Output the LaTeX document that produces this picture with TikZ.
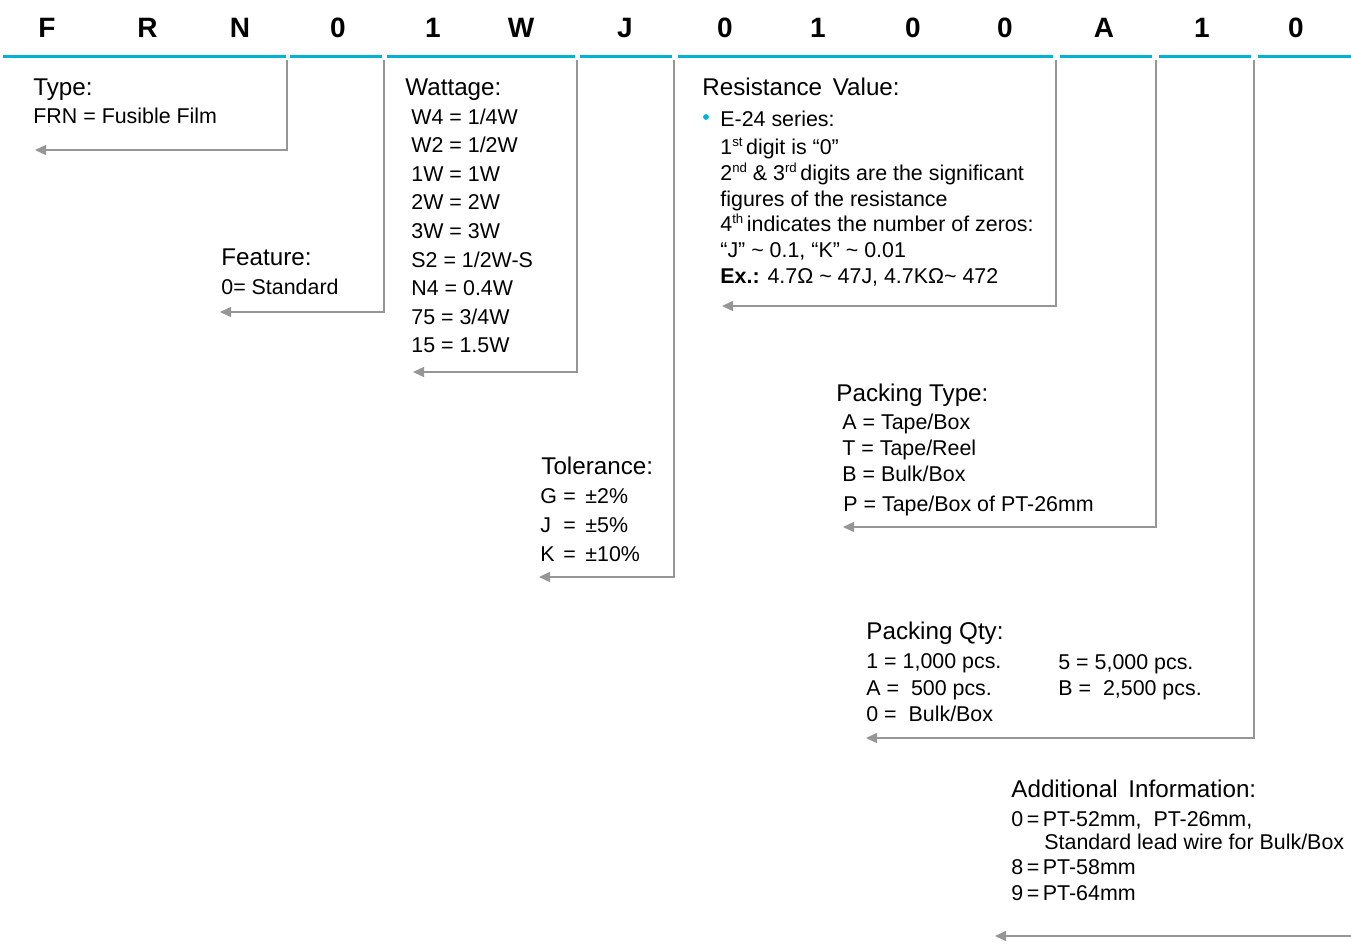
\documentclass[tikz,border=0pt]{standalone}
\usepackage{fontspec}
\setmainfont{Liberation Sans}
\usetikzlibrary{arrows.meta}
\definecolor{codecyan}{RGB}{0,178,214}
\definecolor{leadgray}{RGB}{150,150,150}
\newcommand{\eqrow}[2]{\makebox[11.5pt][l]{#1}\makebox[11pt][l]{=}#2}
\newcommand{\sups}[1]{\raisebox{0.7ex}{\fontsize{6.6}{6.6}\selectfont #1}}
\tikzset{
  code_letter/.style = {anchor=base, inner sep=0pt,
    font=\fontsize{14}{16}\selectfont\bfseries},% lettres du code
  code_bar/.style = {draw=codecyan, line width=1.5pt},% barre cyan
  leader/.style = {draw=leadgray, line width=0.7pt,
    -{Triangle[length=5.5pt,width=5pt]}},% renvoi gris
  field_title/.style = {anchor=base west, inner sep=0pt,
    font=\fontsize{12.1}{14}\selectfont},% titre du champ
  field_item/.style = {anchor=base west, inner sep=0pt,
    font=\fontsize{10.7}{13}\selectfont},% ligne du champ
  bullet_dot/.style = {circle, fill=codecyan, inner sep=0pt,
    minimum size=2.9pt}% puce
}

\begin{document}
\begin{tikzpicture}[x=0.5pt, y=-0.5pt]
  \useasboundingbox (0,0) rectangle (1351,944);
  % code
  \foreach \c/\x [count=\i] in {F/47,R/147.5,N/240,0/338,1/433,W/521,J/625,
      0/725,1/818,0/913,0/1005,A/1104,1/1202,0/1296}
    \node [code_letter] (letter\i) at (\x,37) {\c};
  \foreach \a/\b [count=\i] in {3/286,290/382,387/575,580/672,678/1053,
      1060/1152,1159/1251,1258/1351}
    \draw [code_bar] (\a,56) coordinate (bar\i a) -- (\b,56) coordinate (bar\i b);

  % type
  \node [field_title] (type) at (33,95) {Type:};
  \node [field_item] (type1) at (33,123) {FRN = Fusible Film};

  % feature
  \node [field_title] (feature) at (221,265) {Feature:};
  \node [field_item] (feature1) at (221,294) {0= Standard};

  % wattage
  \node [field_title] (watt) at (405,95) {Wattage:};
  \foreach \t [count=\i] in {W4 = 1/4W, W2 = 1/2W, 1W = 1W, 2W = 2W, 3W = 3W,
      S2 = 1/2W-S, N4 = 0.4W, 75 = 3/4W, 15 = 1.5W}
    \node [field_item] (watt\i) at (411,{124+(\i-1)*28.6}) {\t};

  % tolerance
  \node [field_title] (tol) at (541,474) {Tolerance:};
  \node [field_item] (tol1) at (540,503) {\eqrow{G}{±2\%}};
  \node [field_item] (tol2) at (540,532) {\eqrow{J}{±5\%}};
  \node [field_item] (tol3) at (540,561) {\eqrow{K}{±10\%}};

  % resistance value
  \node [field_title] (res) at (702,95) {Resistance\ \,Value:};
  \node [bullet_dot] (dot) at (706,117) {};
  \foreach \y/\t [count=\i] in {126/E-24 series:,
      154/1\sups{st}\,digit is “0”,
      180/2\sups{nd} \& 3\sups{rd}\,digits are the significant,
      206/figures of the resistance,
      231/4\sups{th}\,indicates the number of zeros:,
      257/{“J” \textasciitilde{} 0.1, “K” \textasciitilde{} 0.01},
      283/{\textbf{Ex.:} 4.7Ω \textasciitilde{} 47J, 4.7KΩ\textasciitilde{} 472}}
    \node [field_item] (res\i) at (720,\y) {\t};

  % packing type
  \node [field_title] (pack) at (836,401) {Packing Type:};
  \node [field_item] (pack1) at (842,429) {A = Tape/Box};
  \node [field_item] (pack2) at (842,455) {T = Tape/Reel};
  \node [field_item] (pack3) at (842,481) {B = Bulk/Box};
  \node [field_item] (pack4) at (843,511) {P = Tape/Box of PT-26mm};

  % packing qty
  \node [field_title] (qty) at (866,639) {Packing Qty:};
  \node [field_item] (qty1) at (866,668) {1 = 1,000 pcs.};
  \node [field_item] (qty2) at (866,695) {A = \ 500 pcs.};
  \node [field_item] (qty3) at (866,721) {0 = \ Bulk/Box};
  \node [field_item] (qty4) at (1058,669) {5 = 5,000 pcs.};
  \node [field_item] (qty5) at (1058,695) {B = \ 2,500 pcs.};

  % additional information
  \node [field_title] (info) at (1011,797) {Additional\ \,Information:};
  \node [field_item] (info1) at (1011,826) {0\,=\,PT-52mm,\ \ PT-26mm,};
  \node [field_item] (info2) at (1044,849) {Standard lead wire for Bulk/Box};
  \node [field_item] (info3) at (1011,874) {8\,=\,PT-58mm};
  \node [field_item] (info4) at (1011,900) {9\,=\,PT-64mm};

  % renvois
  \foreach \n/\dx/\dy/\tx/\ty in {type/287/60/35/150, feat/384/60/220/312,
      watt/577/60/413/372, tol/674/60/539/577, res/1056/60/722/306,
      pack/1156/60/843/527, qty/1254/60/866/738, info/1351/936/995/936}
  {
    \coordinate (\n drop) at (\dx,\dy);
    \coordinate (\n tip) at (\tx,\ty);
    \draw [leader] (\n drop) |- (\n tip);
  }
\end{tikzpicture}
\end{document}
